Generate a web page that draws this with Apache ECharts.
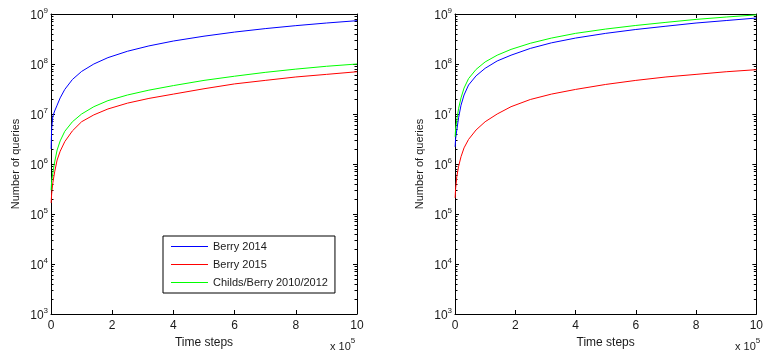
<!DOCTYPE html>
<html><head><meta charset="utf-8">
<script src="https://cdn.jsdelivr.net/npm/echarts@6/dist/echarts.min.js"></script>
<style>html,body{margin:0;padding:0;background:#fff}#c{width:766px;height:360px}</style>
</head><body><div id="c"></div>
<script>
// time steps (shared by both panels)
const timeSteps = [500, 2000, 6000, 12000, 20000, 30000, 45000, 70000, 100000, 140000, 186000, 250000, 320000, 400000, 500000, 600000, 700000, 800000, 900000, 1000000];
// left panel
const leftBerry2014 = [2e6, 5e6, 9e6, 1.15e7, 1.5e7, 2.1e7, 3.1e7, 4.9e7, 7.1e7, 1.0e8, 1.34e8, 1.8e8, 2.3e8, 2.88e8, 3.6e8, 4.35e8, 5.1e8, 5.85e8, 6.6e8, 7.35e8];
const leftBerry2015 = [1.66e5, 2.5e5, 4.2e5, 7e5, 1.2e6, 1.8e6, 2.8e6, 4.6e6, 7e6, 9.6e6, 1.26e7, 1.65e7, 2.05e7, 2.5e7, 3.2e7, 4.0e7, 4.7e7, 5.5e7, 6.2e7, 7.0e7];
const leftChilds = [3e5, 4.5e5, 6.6e5, 1.1e6, 1.9e6, 2.9e6, 4.5e6, 7e6, 1.0e7, 1.4e7, 1.85e7, 2.4e7, 3.0e7, 3.7e7, 4.7e7, 5.7e7, 6.8e7, 7.9e7, 9.0e7, 1.0e8];
// right panel
const rightBerry2014 = [2.2e6, 3.2e6, 4.8e6, 8.5e6, 1.5e7, 2.4e7, 3.8e7, 5.8e7, 8.2e7, 1.15e8, 1.5e8, 2.05e8, 2.65e8, 3.3e8, 4.1e8, 4.9e8, 5.7e8, 6.6e8, 7.4e8, 8.3e8];
const rightBerry2015 = [2.1e5, 3.2e5, 5.6e5, 9e5, 1.4e6, 2.1e6, 3.1e6, 4.8e6, 7e6, 1.0e7, 1.4e7, 1.95e7, 2.5e7, 3.1e7, 3.9e7, 4.7e7, 5.5e7, 6.2e7, 7.0e7, 7.7e7];
const rightChilds = [3.5e6, 5e6, 7.6e6, 1.3e7, 2.1e7, 3.3e7, 5.1e7, 7.8e7, 1.1e8, 1.5e8, 1.96e8, 2.6e8, 3.3e8, 4.1e8, 5.0e8, 5.9e8, 6.8e8, 7.8e8, 8.7e8, 9.6e8];

const seriesNames = ['Berry 2014', 'Berry 2015', 'Childs/Berry 2010/2012'];
const seriesColors = ['#0000ff', '#ff0000', '#00ff00'];
const xTickLabels = [0, 2, 4, 6, 8, 10];
const yMajorTicks = [1e3, 1e4, 1e5, 1e6, 1e7, 1e8, 1e9];
const yMinorTicks = [];
for (let d = 0; d < yMajorTicks.length - 1; d++) for (let m = 2; m <= 9; m++) yMinorTicks.push(m * yMajorTicks[d]);

const FONT = '"Liberation Sans", Arial, sans-serif';
const TXT = '#1a1a1a';

function pairs(ys) { return timeSteps.map((t, i) => [t, ys[i]]); }

function xAxes(gi) {
  const base = {
    type: 'value', gridIndex: gi, min: 0, max: 1e6, interval: 2e5,
    axisLine: { show: true, onZero: false, lineStyle: { color: '#000', width: 1 } },
    axisTick: { show: true, inside: true, length: 4, lineStyle: { color: '#000' } },
    splitLine: { show: false }
  };
  return [
    Object.assign({}, base, {
      position: 'bottom',
      axisLabel: { margin: 6, color: TXT, fontSize: 12, fontFamily: FONT,
        formatter: v => { const k = v / 1e5; return xTickLabels.indexOf(k) >= 0 ? String(k) : ''; } },
      name: 'Time steps', nameLocation: 'middle', nameGap: 20,
      nameTextStyle: { color: TXT, fontSize: 12, fontFamily: FONT }
    }),
    Object.assign({}, base, { position: 'top', axisLabel: { show: false } })
  ];
}

function yAxes(gi) {
  const base = {
    type: 'log', logBase: 10, gridIndex: gi, min: 1e3, max: 1e9,
    splitLine: { show: false }, minorTick: { show: false }, minorSplitLine: { show: false }
  };
  const major = { show: true, inside: true, length: 4, customValues: yMajorTicks, lineStyle: { color: '#000' } };
  const minor = { show: true, inside: true, length: 2.5, customValues: yMinorTicks, lineStyle: { color: '#000' } };
  const line = { show: true, onZero: false, lineStyle: { color: '#000', width: 1 } };
  return [
    Object.assign({}, base, {
      position: 'left', axisLine: line, axisTick: major,
      axisLabel: {
        customValues: yMajorTicks, margin: 3, color: TXT,
        formatter: v => '{b|10}{s|' + Math.round(Math.log10(v)) + '}',
        rich: {
          b: { fontSize: 12, fontFamily: FONT, color: TXT, padding: [4, 0, 0, 0] },
          s: { fontSize: 8, fontFamily: FONT, color: TXT, padding: [0, 0, 6, 0] }
        }
      },
      name: 'Number of queries', nameLocation: 'middle', nameGap: 30,
      nameTextStyle: { color: TXT, fontSize: 11, fontFamily: FONT }
    }),
    Object.assign({}, base, { position: 'left', axisLine: { show: false, onZero: false }, axisTick: minor, axisLabel: { show: false } }),
    Object.assign({}, base, { position: 'right', axisLine: line, axisTick: major, axisLabel: { show: false } }),
    Object.assign({}, base, { position: 'right', axisLine: { show: false, onZero: false }, axisTick: minor, axisLabel: { show: false } })
  ];
}

function mkSeries(name, color, ys, xi, yi) {
  return {
    type: 'line', name: name, data: pairs(ys), xAxisIndex: xi, yAxisIndex: yi,
    symbol: 'none', smooth: false,
    lineStyle: { color: color, width: 1 }, itemStyle: { color: color }
  };
}

const mult = {
  text: '{a|x 10}{s|5}', top: 336, padding: 0,
  textStyle: { fontWeight: 'normal', rich: {
    a: { fontSize: 11, fontWeight: 'normal', fontFamily: FONT, color: TXT, padding: [5, 0, 0, 0] },
    s: { fontSize: 8, fontWeight: 'normal', fontFamily: FONT, color: TXT, padding: [0, 0, 6, 0] } } }
};

const chart = echarts.init(document.getElementById('c'), null, { renderer: 'canvas' });
chart.setOption({
  animation: false,
  backgroundColor: '#fff',
  grid: [
    { left: 51, top: 14, width: 306, height: 300 },
    { left: 455, top: 14, width: 307, height: 300 }
  ],
  xAxis: xAxes(0).concat(xAxes(1)),
  yAxis: yAxes(0).concat(yAxes(1)),
  title: [
    Object.assign({}, mult, { left: 330 }),
    Object.assign({}, mult, { left: 735 })
  ],
  legend: {
    data: seriesNames, orient: 'vertical', left: 163, top: 236,
    padding: [4, 7, 4, 8], itemGap: 5, itemWidth: 37, itemHeight: 1, icon: 'rect',
    backgroundColor: '#fff', borderColor: '#000', borderWidth: 1, borderRadius: 0,
    textStyle: { fontSize: 11, fontFamily: FONT, color: TXT, lineHeight: 13 }
  },
  series: [
    mkSeries(seriesNames[0], seriesColors[0], leftBerry2014, 0, 0),
    mkSeries(seriesNames[1], seriesColors[1], leftBerry2015, 0, 0),
    mkSeries(seriesNames[2], seriesColors[2], leftChilds, 0, 0),
    mkSeries(seriesNames[0], seriesColors[0], rightBerry2014, 2, 4),
    mkSeries(seriesNames[1], seriesColors[1], rightBerry2015, 2, 4),
    mkSeries(seriesNames[2], seriesColors[2], rightChilds, 2, 4)
  ]
});
</script>
</body></html>
